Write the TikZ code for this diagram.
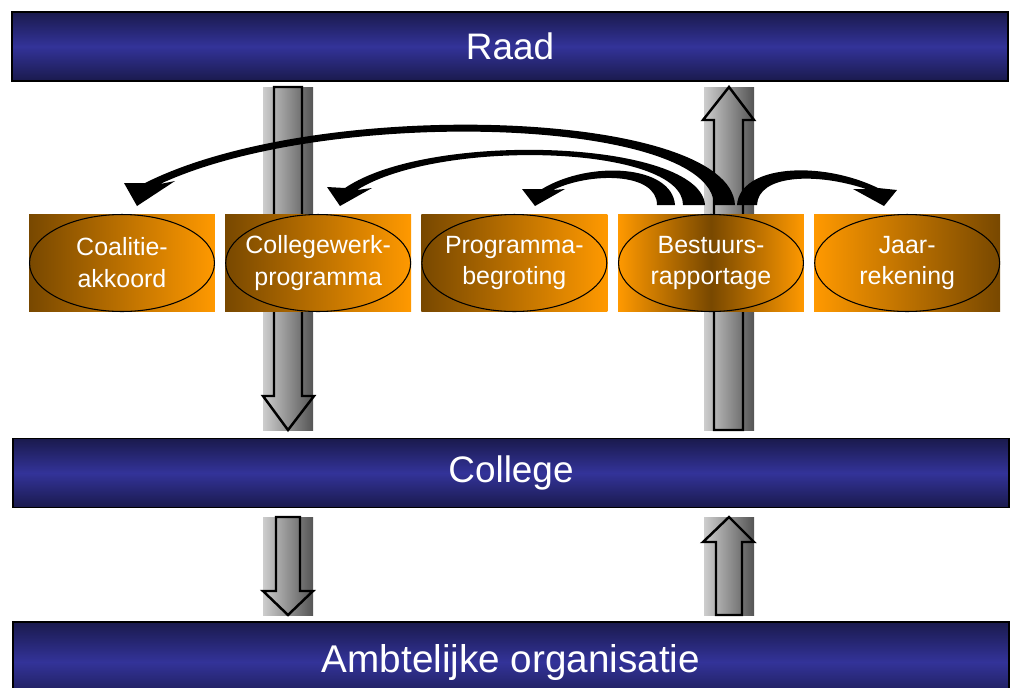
\documentclass[tikz,border=0pt]{standalone}
\usepackage{fontspec}
\setmainfont{Liberation Sans}
\usetikzlibrary{shapes.geometric,positioning,calc}

\definecolor{navydark}{RGB}{26,26,77}
\definecolor{navymid}{RGB}{51,51,153}
\definecolor{ambdark}{RGB}{120,72,0}
\definecolor{ambbright}{RGB}{255,153,0}
\definecolor{pillarlight}{RGB}{205,205,205}
\definecolor{pillardark}{RGB}{85,85,85}

\tikzset{
  bar/.style={draw=black, line width=0.8pt, minimum width=19.92cm, minimum height=1.38cm,
    inner sep=0pt, top color=navydark, bottom color=navydark, middle color=navymid,
    text=white, font=\fontsize{21}{25}\selectfont},
  doc/.style={minimum width=3.72cm, minimum height=1.96cm, inner sep=0pt, align=center,
    text=white, font=\fontsize{14.2}{18.2}\selectfont},
  ring/.style={ellipse, draw=black, line width=0.6pt, minimum width=3.7cm, minimum height=1.94cm},
  darkleft/.style={left color=ambdark, right color=ambbright},
  darkright/.style={left color=ambbright, right color=ambdark},
  darkmid/.style={left color=ambbright, right color=ambbright, middle color=ambdark},
  pillar/.style={left color=pillarlight, right color=pillardark},
  flow/.style={draw=black, line width=1.4pt, line join=miter},
}

\begin{document}
\begin{tikzpicture}[x=0.02cm, y=-0.02cm]
    \useasboundingbox (0,0) rectangle (1013,687);

    % Pillars
    \shade[pillar] (263,87) rectangle (313,430);
    \shade[pillar] (704,87) rectangle (754,430);
    \shade[pillar] (263,517) rectangle (313,615);
    \shade[pillar] (704,517) rectangle (754,615);

    % Block arrows
    \draw[flow] (274,87) -- (302,87) -- (302,396) -- (314,396) -- (288,430) -- (263,396) -- (274,396) -- cycle;
    \draw[flow] (729,87) -- (754,120) -- (743,120) -- (743,430) -- (714,430) -- (714,120) -- (703,120) -- cycle;
    \draw[flow] (276,517) -- (300,517) -- (300,591) -- (313,591) -- (288,615) -- (263,591) -- (276,591) -- cycle;
    \draw[flow] (729,517) -- (754,542) -- (742,542) -- (742,615) -- (716,615) -- (716,542) -- (703,542) -- cycle;

    % Bars
    \node[bar] (raad) at (510,46.5) {Raad};
    \node[bar] (college) at (511,473) {College};
    \node[bar, minimum height=1.6cm, font=\fontsize{22}{26}\selectfont] (ambt) at (511,662) {Ambtelijke organisatie};

    % Documents
    \node[doc, darkleft] (coal) at (122,263) {Coalitie-\\akkoord};
    \node[doc, darkleft, right=0.19cm of coal] (cwp) {Collegewerk-\\programma};
    \node[doc, darkleft, right=0.19cm of cwp] (pbeg) {Programma-\\begroting};
    \node[doc, darkmid, right=0.2cm of pbeg] (brap) {Bestuurs-\\rapportage};
    \node[doc, darkright, right=0.19cm of brap] (jaar) {Jaar-\\rekening};
    \foreach \n in {coal,cwp,pbeg,brap,jaar}
        \node[ring] at (\n) {};

    % Curved arrows
    \fill (735,205) .. controls (730,110) and (320,95) .. (145,183) -- (124,183) -- (137,206) -- (175,181)
        -- (160,184) .. controls (330,105) and (712,118) .. (714,205) -- cycle;
    \fill (705,205) .. controls (700,140) and (430,130) .. (345,188) -- (327,187) -- (340,206) -- (372,188)
        -- (357,190) .. controls (440,138) and (683,145) .. (683,205) -- cycle;
    \fill (675,205) .. controls (672,165) and (590,160) .. (542,189) -- (522,189) -- (535,206) -- (565,189)
        -- (553,190) .. controls (590,172) and (657,172) .. (657,205) -- cycle;
    \fill (737,205) .. controls (740,165) and (820,160) .. (878,188) -- (897,190) -- (884,206) -- (853,189)
        -- (866,189) .. controls (815,172) and (758,175) .. (757,205) -- cycle;
\end{tikzpicture}
\end{document}
